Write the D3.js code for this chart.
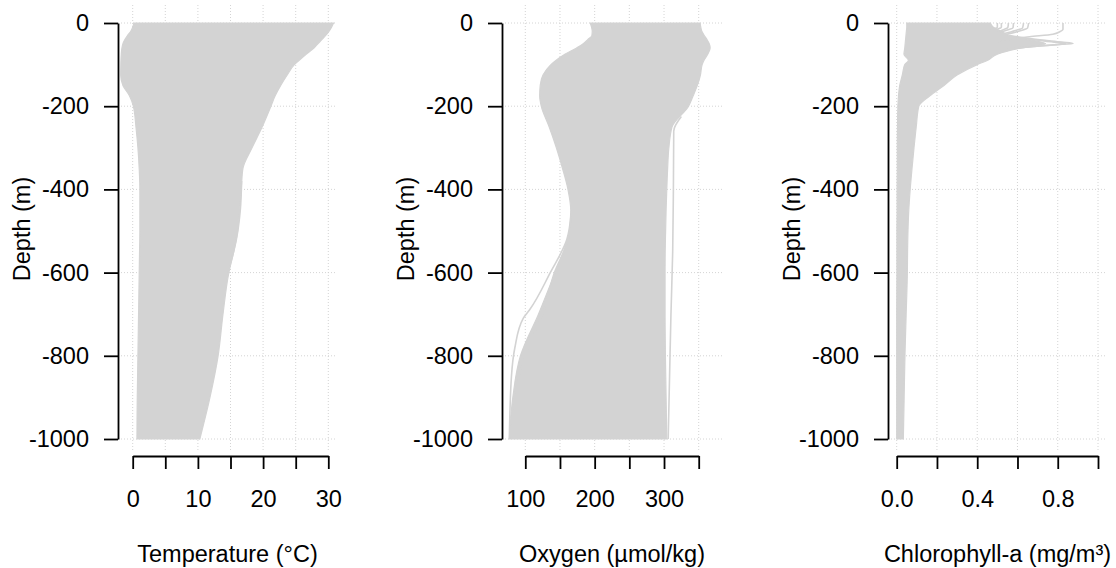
<!DOCTYPE html>
<html>
<head>
<meta charset="utf-8">
<script src="https://cdn.jsdelivr.net/npm/d3@7"></script>
<style>
  html, body { margin: 0; padding: 0; background: #ffffff; }
  svg { display: block; font-family: "Liberation Sans", Arial, sans-serif; }
</style>
</head>
<body>
<svg id="chart" width="1116" height="568"></svg>
<script>
// ---------------- data ----------------
const depthLevels = [0, -10, -20, -30, -40, -50, -60, -75, -90, -100, -125, -150, -175, -200,
  -250, -300, -350, -400, -450, -500, -550, -600, -700, -800, -900, -1000];

// Temperature envelope (°C) across all profiles
const tempMin = [0.2, 0.0, -0.3, -0.8, -1.2, -1.5, -1.65, -1.75, -1.8, -1.82, -1.84, -1.5, -0.5, 0.1,
  0.5, 0.8, 1.0, 1.1, 1.1, 1.1, 1.05, 1.0, 0.9, 0.8, 0.7, 0.65];
const tempMax = [30.8, 30.5, 30.1, 29.6, 29.0, 28.4, 27.8, 26.6, 25.5, 24.8, 23.7, 22.7, 21.85, 21.2,
  19.85, 18.3, 16.9, 16.65, 16.4, 16.1, 15.5, 14.75, 13.85, 13.1, 11.85, 10.3];

// Oxygen envelope (µmol/kg)
const oxyMin = [193.7, 195.5, 196.5, 196, 190, 183.5, 174, 157, 144, 137, 125.5, 121.5, 120.7, 123,
  134.5, 144.8, 153.7, 161.5, 165.5, 163.5, 155, 143, 119, 93, 82, 77];
const oxyMax = [352, 353, 354.5, 358, 362, 365.2, 366.5, 363, 357.5, 355, 352.5, 348, 342, 335.4,
  311.5, 307, 305.2, 304, 303, 302.3, 301.7, 301.5, 301.5, 302, 303, 304];

// Chlorophyll-a envelope (mg/m³)
const chlMin = [0.05, 0.05, 0.048, 0.046, 0.044, 0.042, 0.04, 0.036, 0.058, 0.04, 0.028, 0.015, 0.009, 0.006,
  0.004, 0.003, 0.003, 0.002, 0.002, 0.001, 0.001, 0.001, 0.0, 0.0, 0.0, 0.0];
const chlMax = [0.465, 0.48, 0.52, 0.56, 0.66, 0.74, 0.62, 0.5, 0.45, 0.4, 0.3, 0.235, 0.165, 0.11,
  0.097, 0.086, 0.076, 0.067, 0.06, 0.056, 0.054, 0.053, 0.047, 0.041, 0.037, 0.033];

// individual profiles that stand out from the envelopes: [depth, value]
const tempOutliers = [
  [[-380, 16.7], [-450, 16.5], [-520, 15.9], [-600, 14.6]]
];
const oxyOutliers = [
  [[-460, 166], [-520, 160], [-600, 136], [-690, 106], [-710, 97], [-780, 85], [-850, 80], [-1000, 77]],
  [[-470, 166], [-520, 162], [-600, 142], [-690, 127], [-800, 100], [-900, 84], [-1000, 78]],
  [[-225, 325], [-260, 314], [-400, 313.5], [-550, 312.5], [-700, 310], [-850, 308], [-1000, 306]]
];
const chlOutliers = [
  [[0, 0.50], [-10, 0.50], [-14, 0.485], [-18, 0.46]],
  [[0, 0.52], [-10, 0.52], [-15, 0.50], [-20, 0.47]],
  [[0, 0.555], [-11, 0.552], [-16, 0.53], [-22, 0.50]],
  [[0, 0.58], [-11, 0.578], [-17, 0.55], [-24, 0.50]],
  [[0, 0.63], [-12, 0.625], [-18, 0.59], [-26, 0.53]],
  [[0, 0.655], [-12, 0.65], [-19, 0.61], [-28, 0.54]],
  [[0, 0.826], [-15, 0.826], [-21, 0.81], [-27, 0.776], [-33, 0.66], [-39, 0.56], [-45, 0.50]],
  [[-30, 0.56], [-40, 0.70], [-46, 0.82], [-49, 0.876], [-52, 0.79], [-57, 0.66], [-63, 0.55]],
  [[-36, 0.62], [-44, 0.74], [-50, 0.84], [-54, 0.74], [-60, 0.60]]
];

// axes ticks and labels
const depthTicks = [0, -200, -400, -600, -800, -1000];
const tempTicks = [0, 5, 10, 15, 20, 25, 30];
const tempTickLabels = ["0", "", "10", "", "20", "", "30"];
const oxyTicks = [100, 150, 200, 250, 300, 350];
const oxyTickLabels = ["100", "", "200", "", "300", ""];
const chlTicks = [0, 0.2, 0.4, 0.6, 0.8, 1.0];
const chlTickLabels = ["0.0", "", "0.4", "", "0.8", ""];
const xTitles = ["Temperature (°C)", "Oxygen (µmol/kg)", "Chlorophyll-a (mg/m³)"];
const yTitle = "Depth (m)";

// ---------------- layout ----------------
const svg = d3.select("#chart");
const FS = 23.5;
const GRAY = "#d3d3d3";

const yScale = d3.scaleLinear().domain([0, -1000]).range([23, 439]);

const panels = [
  { left: 118, right: 337, x: d3.scaleLinear().domain([0, 30]).range([132.7, 328.3]),
    ticks: tempTicks, labels: tempTickLabels, lo: tempMin, hi: tempMax, outliers: tempOutliers, title: xTitles[0] },
  { left: 502, right: 722, x: d3.scaleLinear().domain([100, 350]).range([525.3, 698.7]),
    ticks: oxyTicks, labels: oxyTickLabels, lo: oxyMin, hi: oxyMax, outliers: oxyOutliers, title: xTitles[1] },
  { left: 888, right: 1107, x: d3.scaleLinear().domain([0, 1]).range([896.7, 1098]),
    ticks: chlTicks, labels: chlTickLabels, lo: chlMin, hi: chlMax, outliers: chlOutliers, title: xTitles[2] }
];
const plotTop = 5, plotBottom = 450, xAxisY = 456;

panels.forEach(p => {
  const g = svg.append("g");
  const x = p.x;

  // grid
  const grid = g.append("g").attr("stroke", "#cfcfcf").attr("stroke-width", 0.9)
    .attr("stroke-dasharray", "1,2").attr("fill", "none");
  grid.selectAll("line.v").data(p.ticks).join("line").attr("class", "v")
    .attr("x1", d => x(d)).attr("x2", d => x(d))
    .attr("y1", plotTop).attr("y2", plotBottom);
  grid.selectAll("line.h").data(depthTicks).join("line").attr("class", "h")
    .attr("x1", p.left).attr("x2", p.right)
    .attr("y1", d => yScale(d)).attr("y2", d => yScale(d));

  // envelope
  const rows = depthLevels.map((d, i) => ({ d, lo: p.lo[i], hi: p.hi[i] }));
  const area = d3.area()
    .y(r => yScale(r.d)).x0(r => x(r.lo)).x1(r => x(r.hi))
    .curve(d3.curveMonotoneY);
  g.append("path").datum(rows).attr("d", area)
    .attr("fill", GRAY).attr("stroke", GRAY).attr("stroke-width", 1.2);

  // outlier profiles
  const line = d3.line().x(q => x(q[1])).y(q => yScale(q[0])).curve(d3.curveMonotoneY);
  g.selectAll("path.out").data(p.outliers).join("path").attr("class", "out")
    .attr("d", line).attr("fill", "none").attr("stroke", GRAY).attr("stroke-width", 1.6);

  // y axis
  const ya = g.append("g").attr("transform", `translate(${p.left},0)`)
    .call(d3.axisLeft(yScale).tickValues(depthTicks).tickSize(14).tickSizeOuter(0).tickPadding(15)
      .tickFormat(d3.format("d")));
  ya.select(".domain").attr("stroke", "#000").attr("stroke-width", 1.8);
  ya.selectAll(".tick line").attr("stroke", "#000").attr("stroke-width", 1.8);
  ya.selectAll(".tick text").attr("font-size", FS).attr("fill", "#000")
    .attr("font-family", "Liberation Sans, Arial, sans-serif")
    .text(d => d === 0 ? "0" : String(d).replace("\u2212", "-"));

  // x axis
  const xa = g.append("g").attr("transform", `translate(0,${xAxisY})`)
    .call(d3.axisBottom(x).tickValues(p.ticks).tickSize(13).tickSizeOuter(0).tickPadding(21)
      .tickFormat((d, i) => p.labels[i]));
  xa.select(".domain").attr("stroke", "#000").attr("stroke-width", 1.8);
  xa.selectAll(".tick line").attr("stroke", "#000").attr("stroke-width", 1.8);
  xa.selectAll(".tick text").attr("font-size", FS).attr("fill", "#000")
    .attr("font-family", "Liberation Sans, Arial, sans-serif");

  // titles
  g.append("text").attr("x", (p.left + p.right) / 2).attr("y", 562)
    .attr("text-anchor", "middle").attr("font-size", FS).attr("fill", "#000").text(p.title);
  g.append("text").attr("transform", `translate(${p.left - 88.5},229) rotate(-90)`)
    .attr("text-anchor", "middle").attr("font-size", FS).attr("fill", "#000").text(yTitle);
});
</script>
</body>
</html>
